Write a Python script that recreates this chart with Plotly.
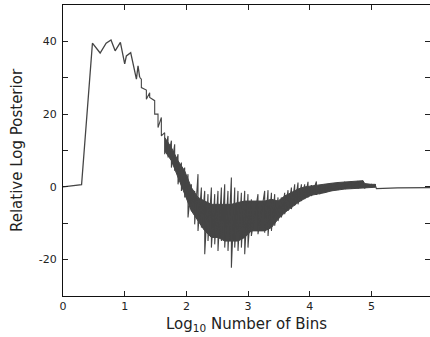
import plotly.graph_objects as go

# Sparse part of the curve (log10 number of bins, relative log posterior)
line_x = [0.0, 0.301, 0.477, 0.602, 0.699, 0.778, 0.845, 0.93, 1.0, 1.027, 1.097, 1.135, 1.19, 1.216, 1.243]
line_y = [0.0, 0.6, 39.5, 36.8, 39.5, 40.4, 37.4, 39.7, 33.8, 36.0, 36.9, 34.2, 29.6, 33.3, 30.1]

# Dense, oscillating part: outer extremes of the oscillations
band_x = [1.243, 1.27, 1.351, 1.405, 1.486, 1.540, 1.594, 1.648, 1.702, 1.757, 1.810, 1.864,
          1.919, 1.972, 2.026, 2.081, 2.134, 2.188, 2.243, 2.297, 2.350, 2.405, 2.459, 2.512,
          2.567, 2.621, 2.674, 2.729, 2.783, 2.836, 2.891, 2.945, 2.998, 3.053, 3.160, 3.269,
          3.323, 3.378, 3.431, 3.485, 3.540, 3.593, 3.647, 3.702, 3.755, 3.809, 3.864, 3.917,
          3.971, 4.026, 4.107, 4.160, 4.241, 4.350, 4.457, 4.566, 4.674, 4.781, 4.862, 4.890,
          4.998, 5.063]
band_top = [30.1, 29.6, 26.6, 25.9, 23.7, 20.0, 19.1, 14.9, 14.0, 12.7, 11.7, 9.0,
            6.7, 5.3, 3.5, 0.7, -1.1, 3.5, -0.2, -1.1, -2.0, -0.2, -2.0, -1.1,
            -0.2, 0.7, -1.1, 2.6, -0.2, -1.1, -1.6, -1.1, -2.0, -3.4, -2.0, -1.1,
            -0.9, -1.6, -2.0, -2.9, -2.9, -1.6, -0.9, -0.2, 0.7, 1.2, 0.7, 0.7,
            1.4, 0.5, 1.5, 0.3, 0.7, 1.0, 1.2, 1.4, 1.5, 1.6, 1.7, 0.9,
            0.7, 0.7]
band_bottom = [30.1, 27.3, 24.1, 24.6, 20.0, 16.3, 14.0, 9.0, 8.1, 5.3, 4.4, 0.7,
               -1.1, -2.9, -8.4, -6.6, -10.3, -12.1, -11.2, -18.5, -14.9, -16.7, -15.8, -17.6,
               -14.9, -16.7, -17.6, -22.2, -16.7, -17.6, -16.7, -18.5, -16.7, -13.5, -13.0, -12.6,
               -13.5, -12.1, -10.7, -9.4, -8.4, -7.5, -6.6, -6.1, -5.2, -4.8, -3.9, -3.4,
               -2.9, -2.5, -2.2, -2.0, -1.6, -1.1, -0.8, -0.6, -0.5, -0.4, -0.3, -0.3,
               -0.2, -0.1]

# Dense core of the oscillating band (where it reads as solid)
core_x = [1.648, 1.757, 1.864, 1.972, 2.081, 2.188, 2.297, 2.405, 2.512, 2.621, 2.729,
          2.836, 2.945, 3.053, 3.160, 3.269, 3.378, 3.485, 3.593, 3.702, 3.809, 3.917, 4.026,
          4.160, 4.241, 4.350, 4.457, 4.566, 4.674, 4.781, 4.862, 4.890, 4.998, 5.063]
core_top = [13.6, 10.8, 7.2, 4.4, -0.2, -2.9, -3.9, -4.8, -4.8, -4.8, -4.8,
            -4.3, -3.9, -3.9, -3.9, -3.9, -3.4, -3.9, -2.5, -1.6, -0.6, 0.0, 0.3,
            0.5, 0.7, 1.0, 1.2, 1.4, 1.5, 1.6, 1.7, 0.9, 0.7, 0.7]
core_bottom = [9.9, 7.2, 2.6, -2.0, -6.6, -9.4, -12.1, -13.9, -13.9, -14.9, -14.9,
               -14.9, -13.9, -12.1, -12.1, -12.1, -11.2, -8.9, -7.1, -5.7, -4.3, -3.2, -2.3,
               -1.8, -1.6, -1.1, -0.8, -0.6, -0.5, -0.4, -0.3, -0.3, -0.2, -0.1]

# Flat tail at large bin numbers
tail_x = [5.063, 5.08, 5.42, 5.94, 6.0]
tail_y = [0.3, -0.5, -0.3, -0.2, -0.2]

x_ticks = [0, 1, 2, 3, 4, 5, 6]
y_ticks = [-20, 0, 20, 40]

LINE = "#454545"

# oscillation trace: each sample swings from its upper to its lower extreme
osc_x, osc_y = [], []
for xv, t, b in zip(band_x, band_top, band_bottom):
    osc_x += [xv, xv]
    osc_y += [t, b]

fig = go.Figure()
fig.add_trace(go.Scatter(x=line_x, y=line_y, mode="lines",
                         line=dict(color=LINE, width=1.3), showlegend=False, hoverinfo="skip"))
fig.add_trace(go.Scatter(x=core_x + core_x[::-1], y=core_top + core_bottom[::-1],
                         mode="lines", fill="toself", fillcolor=LINE,
                         line=dict(color=LINE, width=1), showlegend=False, hoverinfo="skip"))
fig.add_trace(go.Scatter(x=osc_x, y=osc_y, mode="lines",
                         line=dict(color=LINE, width=1.1), showlegend=False, hoverinfo="skip"))
fig.add_trace(go.Scatter(x=tail_x, y=tail_y, mode="lines",
                         line=dict(color=LINE, width=1.2), showlegend=False, hoverinfo="skip"))
fig.add_trace(go.Scatter(x=[None], y=[None], yaxis="y2", showlegend=False, hoverinfo="skip"))

font_fam = "DejaVu Sans, Verdana, sans-serif"
fig.update_layout(
    width=430, height=337,
    margin=dict(l=63, r=0, t=5, b=41),
    paper_bgcolor="white", plot_bgcolor="white",
    font=dict(family=font_fam, color="#222", size=11),
    xaxis=dict(range=[0, 5.948], tickvals=x_ticks, ticktext=[str(v) for v in x_ticks],
               ticks="inside", ticklen=5, tickcolor="#222", showline=True, linecolor="#111",
               linewidth=1.3, mirror="ticks", showgrid=False, zeroline=False,
               title=dict(text="Log<sub>10</sub> Number of Bins", font=dict(size=15), standoff=6)),
    yaxis=dict(range=[-30, 50], tickvals=y_ticks, ticktext=[str(v) for v in y_ticks],
               ticks="inside", ticklen=5, tickcolor="#222", showline=True, linecolor="#111",
               linewidth=1.3, showgrid=False, zeroline=False, ticklabelstandoff=3,
               minor=dict(dtick=10, tick0=0, ticks="inside", ticklen=5, tickcolor="#222", showgrid=False),
               title=dict(text="Relative Log Posterior", font=dict(size=15), standoff=12)),
    yaxis2=dict(range=[-30, 50], overlaying="y", side="right", dtick=10, tick0=0,
                ticks="inside", ticklen=5, tickcolor="#222", showticklabels=False,
                showline=False, showgrid=False, zeroline=False),
)

fig.write_html("out.html", config={"displayModeBar": False},
               post_script="document.body.style.margin='0';")
